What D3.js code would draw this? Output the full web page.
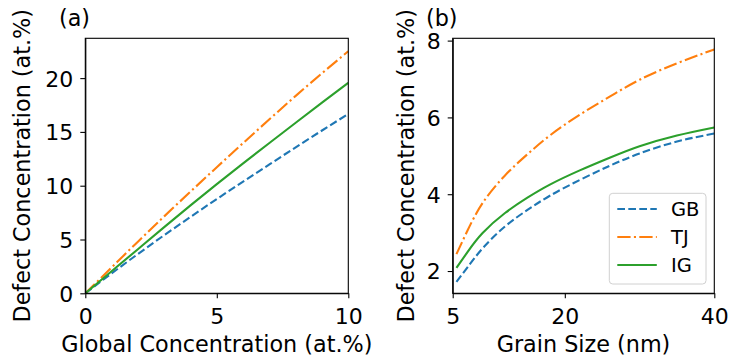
<!DOCTYPE html>
<html>
<head>
<meta charset="utf-8">
<script src="https://cdn.jsdelivr.net/npm/d3@7"></script>
<style>
  body { margin: 0; background: #fff; }
  text { font-family: "DejaVu Sans", sans-serif; fill: #000; }
  .axis path, .axis line { stroke: #000; stroke-width: 1.1; }
  .line { fill: none; stroke-width: 2.1; }
</style>
</head>
<body>
<script>
// panel (a): defect vs global concentration
var globalConc = [0, 1, 2, 3, 4, 5, 6, 7, 8, 9, 10];
var gbA = [0, 1.85, 3.65, 5.4, 7.1, 8.76, 10.38, 11.98, 13.57, 15.13, 16.67];
var tjA = [0, 2.4, 4.8, 7.15, 9.45, 11.72, 13.96, 16.17, 18.35, 20.45, 22.5];
var igA = [0, 2.05, 4.1, 6.15, 8.17, 10.15, 12.08, 13.97, 15.85, 17.72, 19.56];

// panel (b): defect vs grain size
var grainSize = [5.5, 7, 9, 12, 15, 18, 22, 26, 30, 35, 40];
var gbB = [1.72, 2.1, 2.59, 3.16, 3.59, 3.96, 4.37, 4.74, 5.06, 5.37, 5.58];
var tjB = [2.44, 3.06, 3.77, 4.49, 5.04, 5.53, 6.07, 6.54, 6.98, 7.41, 7.77];
var igB = [2.08, 2.5, 2.99, 3.51, 3.91, 4.25, 4.62, 4.95, 5.25, 5.53, 5.74];

var ticksAX = [0, 5, 10];
var ticksAY = [0, 5, 10, 15, 20];
var ticksBX = [5, 20, 40];
var ticksBY = [2, 4, 6, 8];

var seriesNames = ["GB", "TJ", "IG"];
var colors = ["#1f77b4", "#ff7f0e", "#2ca02c"];
var dashes = ["7.7,3.3", "13.3,3.3,2.1,3.3", null];

var tickFont = 22, labelFont = 22.3, legendFont = 19.5;

var svg = d3.select("body").append("svg")
  .attr("width", 730)
  .attr("height", 362);

function panel(opts) {
  var width = opts.right - opts.left,
    height = opts.bottom - opts.top;

  var xScale = d3.scaleLinear().domain(opts.xDomain).range([0, width]);
  var yScale = d3.scaleLinear().domain(opts.yDomain).range([height, 0]);

  var g = svg.append("g")
    .attr("transform", "translate(" + opts.left + "," + opts.top + ")");

  g.append("clipPath")
    .attr("id", opts.id + "-clip")
    .append("rect")
    .attr("width", width)
    .attr("height", height);

  var line = d3.line()
    .x(function (d) { return xScale(d[0]); })
    .y(function (d) { return yScale(d[1]); })
    .curve(d3.curveNatural);

  opts.series.forEach(function (vals, i) {
    var pts = opts.xs.map(function (x, j) { return [x, vals[j]]; });
    g.append("path")
      .datum(pts)
      .attr("class", "line")
      .attr("clip-path", "url(#" + opts.id + "-clip)")
      .attr("d", line)
      .style("stroke", colors[i])
      .style("stroke-dasharray", dashes[i]);
  });

  var xAxis = g.append("g")
    .attr("class", "axis")
    .attr("transform", "translate(0," + height + ")")
    .call(d3.axisBottom(xScale).tickValues(opts.xTicks).tickFormat(d3.format("d"))
      .tickSize(5).tickPadding(10).tickSizeOuter(0));
  xAxis.selectAll("text").style("font-size", tickFont + "px").attr("dy", "0.71em");

  var yAxis = g.append("g")
    .attr("class", "axis")
    .call(d3.axisLeft(yScale).tickValues(opts.yTicks).tickFormat(d3.format("d"))
      .tickSize(5).tickPadding(7).tickSizeOuter(0));
  yAxis.selectAll("text").style("font-size", tickFont + "px").attr("dy", "0.36em");

  // box frame
  g.append("rect")
    .attr("width", width)
    .attr("height", height)
    .attr("fill", "none")
    .attr("stroke", "#000")
    .attr("stroke-width", 1.1);

  g.append("text")
    .attr("x", opts.tagX - opts.left)
    .attr("y", 25.5 - opts.top)
    .style("font-size", labelFont + "px")
    .text(opts.tag);

  g.append("text")
    .attr("x", width / 2)
    .attr("y", 352.5 - opts.top)
    .attr("text-anchor", "middle")
    .style("font-size", labelFont + "px")
    .text(opts.xLabel);

  g.append("text")
    .attr("transform", "translate(" + (opts.yLabelX - opts.left) + "," + (height / 2) + ") rotate(-90)")
    .attr("text-anchor", "middle")
    .style("font-size", labelFont + "px")
    .text("Defect Concentration (at.%)");

  return { g: g, width: width, height: height };
}

panel({
  id: "a", left: 85.3, right: 348.3, top: 38.3, bottom: 293.3,
  xDomain: [0, 10], yDomain: [0, 23.7],
  xTicks: ticksAX, yTicks: ticksAY,
  xs: globalConc, series: [gbA, tjA, igA],
  tag: "(a)", tagX: 59, yLabelX: 30,
  xLabel: "Global Concentration (at.%)"
});

var pb = panel({
  id: "b", left: 452.7, right: 714.3, top: 38.3, bottom: 293.3,
  xDomain: [5, 40], yDomain: [1.42, 8.06],
  xTicks: ticksBX, yTicks: ticksBY,
  xs: grainSize, series: [gbB, tjB, igB],
  tag: "(b)", tagX: 426, yLabelX: 414,
  xLabel: "Grain Size (nm)"
});

// legend, lower right of panel (b)
var legend = pb.g.append("g")
  .attr("transform", "translate(" + (pb.width - 8.3 - 96.7) + "," + (pb.height - 9.3 - 90.7) + ")");

legend.append("rect")
  .attr("width", 96.7)
  .attr("height", 90.7)
  .attr("rx", 3.5)
  .attr("fill", "rgba(255,255,255,0.8)")
  .attr("stroke", "#d0d0d0")
  .attr("stroke-width", 1);

seriesNames.forEach(function (name, i) {
  var y = 15.7 + i * 28;
  legend.append("line")
    .attr("x1", 8)
    .attr("x2", 47.5)
    .attr("y1", y)
    .attr("y2", y)
    .style("stroke", colors[i])
    .style("stroke-width", 2.1)
    .style("stroke-dasharray", dashes[i]);
  legend.append("text")
    .attr("x", 61.7)
    .attr("y", y + 6.8)
    .style("font-size", legendFont + "px")
    .text(name);
});
</script>
</body>
</html>
